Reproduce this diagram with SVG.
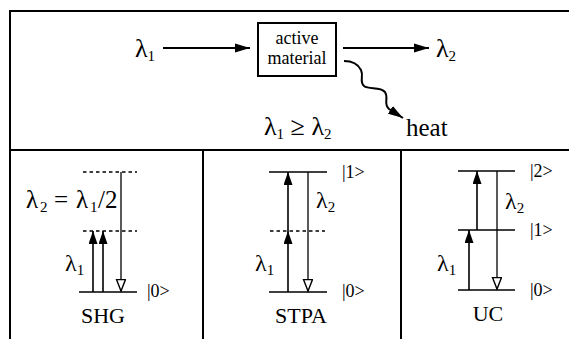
<svg xmlns="http://www.w3.org/2000/svg" width="569" height="339" viewBox="0 0 569 339">
<defs>
<marker id="fill" markerUnits="userSpaceOnUse" markerWidth="14" markerHeight="10" refX="13" refY="4.5" orient="auto" viewBox="0 0 14 10">
<path d="M0,0 L13,4.5 L0,9 z" fill="#000"/>
</marker>
<marker id="open" markerUnits="userSpaceOnUse" markerWidth="14" markerHeight="12" refX="12.5" refY="5" orient="auto" viewBox="0 0 14 12">
<path d="M1,0.5 L12.5,5 L1,9.5 z" fill="#fff" stroke="#000" stroke-width="1.4"/>
</marker>
<marker id="big" markerUnits="userSpaceOnUse" markerWidth="16" markerHeight="10" refX="15" refY="5" orient="auto" viewBox="0 0 16 10">
<path d="M0,0.5 L15,5 L0,9.5 z" fill="#000"/>
</marker>
</defs>

<g id="frame" stroke="#000" stroke-width="2" fill="none">
<path d="M10,339 V11 H569 M10,150 H569 M203,150 V339 M401,150 V339"/>
</g>

<g id="connectors" stroke="#000" stroke-width="2" fill="none">
<line x1="163" y1="48" x2="250" y2="48" marker-end="url(#big)"/>
<line x1="343" y1="48" x2="429" y2="48" marker-end="url(#big)"/>
<path d="M344,61 C352,61 358,64 361,70 C364,76 359,82 364,86 C369,90 380,86 385,92 C389,98 383,104 389,109 L403,118" marker-end="url(#big)"/>
</g>

<g id="lambda1-in" font-family="Liberation Serif">
<text font-size="26" x="135" y="57">λ<tspan font-size="15" dy="4">1</tspan></text>
</g>
<g id="active-material" font-family="Liberation Serif">
<rect x="258" y="23" width="78" height="53" fill="#fff" stroke="#000" stroke-width="2"/>
<text x="297" y="44" font-size="18" text-anchor="middle">active</text>
<text x="297" y="64" font-size="18" text-anchor="middle">material</text>
</g>
<g id="lambda2-out" font-family="Liberation Serif">
<text font-size="26" x="436" y="57">λ<tspan font-size="15" dy="4">2</tspan></text>
</g>
<g id="heat" font-family="Liberation Serif">
<text x="406" y="136" font-size="25">heat</text>
</g>
<g id="condition" font-family="Liberation Serif">
<text font-size="26" x="264" y="135">λ<tspan font-size="15" dy="4">1</tspan><tspan dy="-4"> ≥ λ</tspan><tspan font-size="15" dy="4">2</tspan></text>
</g>

<g id="shg" font-family="Liberation Serif">
<g stroke="#000" fill="none">
<line stroke-width="1.3" stroke-dasharray="3.5,3" x1="83" y1="172" x2="137" y2="172"/>
<line stroke-width="1.3" stroke-dasharray="3.5,3" x1="83" y1="231" x2="137" y2="231"/>
<line stroke-width="1.6" x1="79" y1="292" x2="137" y2="292"/>
<line stroke-width="1.6" marker-end="url(#fill)" x1="93" y1="292" x2="93" y2="231"/>
<line stroke-width="1.6" marker-end="url(#fill)" x1="103" y1="292" x2="103" y2="231"/>
<line stroke-width="1.3" marker-end="url(#open)" x1="121" y1="172" x2="121" y2="291"/>
</g>
<text font-size="25" x="26" y="208">λ<tspan font-size="15" x="40" y="212">2</tspan><tspan x="54" y="208">=</tspan><tspan x="76" y="208">λ</tspan><tspan font-size="15" x="90" y="212">1</tspan><tspan x="98" y="208">/2</tspan></text>
<text font-size="24" x="65" y="271">λ<tspan font-size="15" dy="4">1</tspan></text>
<text font-size="18" x="147" y="297">|0&gt;</text>
<text font-size="22" x="103" y="323" text-anchor="middle">SHG</text>
</g>

<g id="stpa" font-family="Liberation Serif">
<g stroke="#000" fill="none">
<line stroke-width="1.6" x1="269" y1="172" x2="327" y2="172"/>
<line stroke-width="1.3" stroke-dasharray="3.5,3" x1="270" y1="231" x2="325" y2="231"/>
<line stroke-width="1.6" x1="269" y1="292" x2="327" y2="292"/>
<line stroke-width="1.6" marker-end="url(#fill)" x1="288" y1="292" x2="288" y2="231"/>
<line stroke-width="1.6" marker-end="url(#fill)" x1="288" y1="231" x2="288" y2="172"/>
<line stroke-width="1.3" marker-end="url(#open)" x1="308" y1="172" x2="308" y2="291"/>
</g>
<text font-size="24" x="316" y="208">λ<tspan font-size="15" dy="4">2</tspan></text>
<text font-size="24" x="255" y="271">λ<tspan font-size="15" dy="4">1</tspan></text>
<text font-size="18" x="342" y="178">|1&gt;</text>
<text font-size="18" x="342" y="297">|0&gt;</text>
<text font-size="22" x="301" y="323" text-anchor="middle">STPA</text>
</g>

<g id="uc" font-family="Liberation Serif">
<g stroke="#000" fill="none">
<line stroke-width="1.6" x1="458" y1="171" x2="515" y2="171"/>
<line stroke-width="1.6" x1="458" y1="230" x2="515" y2="230"/>
<line stroke-width="1.6" x1="458" y1="290" x2="515" y2="290"/>
<line stroke-width="1.6" marker-end="url(#fill)" x1="469" y1="290" x2="469" y2="230"/>
<line stroke-width="1.6" marker-end="url(#fill)" x1="477" y1="230" x2="477" y2="171"/>
<line stroke-width="1.3" marker-end="url(#open)" x1="497" y1="171" x2="497" y2="289"/>
</g>
<text font-size="24" x="505" y="209">λ<tspan font-size="15" dy="4">2</tspan></text>
<text font-size="24" x="437" y="271">λ<tspan font-size="15" dy="4">1</tspan></text>
<text font-size="18" x="530" y="177">|2&gt;</text>
<text font-size="18" x="530" y="236">|1&gt;</text>
<text font-size="18" x="530" y="296">|0&gt;</text>
<text font-size="22" x="488" y="321" text-anchor="middle">UC</text>
</g>
</svg>
